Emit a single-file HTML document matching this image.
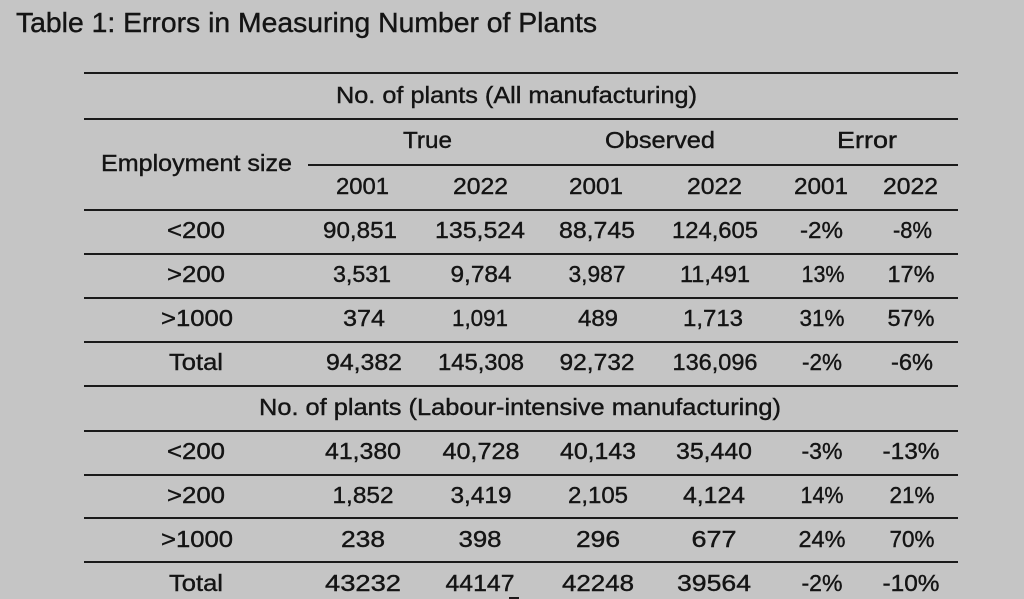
<!DOCTYPE html>
<html>
<head>
<meta charset="utf-8">
<style>
html,body{margin:0;padding:0;background:#c5c5c5;}
svg{display:block;}
text{font-family:"Liberation Sans",sans-serif;fill:#141414;stroke:#141414;stroke-width:0.4px;}
.b{font-size:23px;}
.t{font-size:28px;}
</style>
</head>
<body>
<svg width="1024" height="599" viewBox="0 0 1024 599" xmlns="http://www.w3.org/2000/svg">
<rect width="1024" height="599" fill="#c5c5c5"/>
<!-- title -->
<text class="t" x="16" y="32" textLength="581" lengthAdjust="spacingAndGlyphs">Table 1: Errors in Measuring Number of Plants</text>

<!-- lines -->
<g fill="#1a1a1a">
<rect x="84" y="72" width="874" height="2"/>
<rect x="84" y="118" width="874" height="2"/>
<rect x="308" y="164" width="650" height="2"/>
<rect x="84" y="209" width="874" height="2"/>
<rect x="84" y="253" width="874" height="2"/>
<rect x="84" y="297" width="874" height="2"/>
<rect x="84" y="341" width="874" height="2"/>
<rect x="84" y="385" width="874" height="2"/>
<rect x="84" y="430" width="874" height="2"/>
<rect x="84" y="474" width="874" height="2"/>
<rect x="84" y="517" width="874" height="2"/>
<rect x="84" y="561" width="874" height="2"/>
<rect x="509" y="597" width="10" height="2"/>
</g>

<g class="b" text-anchor="middle">
<text x="516.5" y="103" textLength="361" lengthAdjust="spacingAndGlyphs">No. of plants (All manufacturing)</text>
<text x="427.5" y="148" textLength="49" lengthAdjust="spacingAndGlyphs">True</text>
<text x="660" y="148" textLength="110" lengthAdjust="spacingAndGlyphs">Observed</text>
<text x="867" y="148" textLength="60" lengthAdjust="spacingAndGlyphs">Error</text>
<text x="196.5" y="171" textLength="191" lengthAdjust="spacingAndGlyphs">Employment size</text>

<text x="362.5" y="194" textLength="53" lengthAdjust="spacingAndGlyphs">2001</text>
<text x="480.5" y="194" textLength="55" lengthAdjust="spacingAndGlyphs">2022</text>
<text x="596" y="194" textLength="54" lengthAdjust="spacingAndGlyphs">2001</text>
<text x="714.5" y="194" textLength="55" lengthAdjust="spacingAndGlyphs">2022</text>
<text x="821" y="194" textLength="54" lengthAdjust="spacingAndGlyphs">2001</text>
<text x="910.5" y="194" textLength="55" lengthAdjust="spacingAndGlyphs">2022</text>

<!-- row 1 -->
<text x="196" y="238" textLength="58" lengthAdjust="spacingAndGlyphs">&lt;200</text>
<text x="360" y="238" textLength="74" lengthAdjust="spacingAndGlyphs">90,851</text>
<text x="480" y="238" textLength="90" lengthAdjust="spacingAndGlyphs">135,524</text>
<text x="597" y="238" textLength="76" lengthAdjust="spacingAndGlyphs">88,745</text>
<text x="715" y="238" textLength="86" lengthAdjust="spacingAndGlyphs">124,605</text>
<text x="821.5" y="238" textLength="43" lengthAdjust="spacingAndGlyphs">-2%</text>
<text x="912.5" y="238" textLength="39" lengthAdjust="spacingAndGlyphs">-8%</text>

<!-- row 2 -->
<text x="196" y="282" textLength="58" lengthAdjust="spacingAndGlyphs">&gt;200</text>
<text x="362" y="282" textLength="58" lengthAdjust="spacingAndGlyphs">3,531</text>
<text x="481" y="282" textLength="61" lengthAdjust="spacingAndGlyphs">9,784</text>
<text x="597" y="282" textLength="57" lengthAdjust="spacingAndGlyphs">3,987</text>
<text x="715" y="282" textLength="70" lengthAdjust="spacingAndGlyphs">11,491</text>
<text x="823" y="282" textLength="43" lengthAdjust="spacingAndGlyphs">13%</text>
<text x="911" y="282" textLength="47" lengthAdjust="spacingAndGlyphs">17%</text>

<!-- row 3 -->
<text x="197" y="326" textLength="72" lengthAdjust="spacingAndGlyphs">&gt;1000</text>
<text x="364" y="326" textLength="42" lengthAdjust="spacingAndGlyphs">374</text>
<text x="480" y="326" textLength="56" lengthAdjust="spacingAndGlyphs">1,091</text>
<text x="598" y="326" textLength="40" lengthAdjust="spacingAndGlyphs">489</text>
<text x="713" y="326" textLength="60" lengthAdjust="spacingAndGlyphs">1,713</text>
<text x="822" y="326" textLength="45" lengthAdjust="spacingAndGlyphs">31%</text>
<text x="911" y="326" textLength="47" lengthAdjust="spacingAndGlyphs">57%</text>

<!-- total -->
<text x="196" y="370" textLength="54" lengthAdjust="spacingAndGlyphs">Total</text>
<text x="364" y="370" textLength="76" lengthAdjust="spacingAndGlyphs">94,382</text>
<text x="481" y="370" textLength="86" lengthAdjust="spacingAndGlyphs">145,308</text>
<text x="597" y="370" textLength="75" lengthAdjust="spacingAndGlyphs">92,732</text>
<text x="715" y="370" textLength="85" lengthAdjust="spacingAndGlyphs">136,096</text>
<text x="822" y="370" textLength="40" lengthAdjust="spacingAndGlyphs">-2%</text>
<text x="912" y="370" textLength="42" lengthAdjust="spacingAndGlyphs">-6%</text>

<!-- labour heading -->
<text x="520" y="415" textLength="522" lengthAdjust="spacingAndGlyphs">No. of plants (Labour-intensive manufacturing)</text>

<!-- l row 1 -->
<text x="196" y="459" textLength="58" lengthAdjust="spacingAndGlyphs">&lt;200</text>
<text x="363" y="459" textLength="76" lengthAdjust="spacingAndGlyphs">41,380</text>
<text x="481" y="459" textLength="77" lengthAdjust="spacingAndGlyphs">40,728</text>
<text x="598" y="459" textLength="76" lengthAdjust="spacingAndGlyphs">40,143</text>
<text x="714" y="459" textLength="76" lengthAdjust="spacingAndGlyphs">35,440</text>
<text x="822" y="459" textLength="41" lengthAdjust="spacingAndGlyphs">-3%</text>
<text x="911" y="459" textLength="57" lengthAdjust="spacingAndGlyphs">-13%</text>

<!-- l row 2 -->
<text x="196" y="503" textLength="58" lengthAdjust="spacingAndGlyphs">&gt;200</text>
<text x="363" y="503" textLength="61" lengthAdjust="spacingAndGlyphs">1,852</text>
<text x="481" y="503" textLength="61" lengthAdjust="spacingAndGlyphs">3,419</text>
<text x="598" y="503" textLength="60" lengthAdjust="spacingAndGlyphs">2,105</text>
<text x="714" y="503" textLength="62" lengthAdjust="spacingAndGlyphs">4,124</text>
<text x="822" y="503" textLength="43" lengthAdjust="spacingAndGlyphs">14%</text>
<text x="912" y="503" textLength="45" lengthAdjust="spacingAndGlyphs">21%</text>

<!-- l row 3 -->
<text x="197" y="547" textLength="72" lengthAdjust="spacingAndGlyphs">&gt;1000</text>
<text x="363" y="547" textLength="44" lengthAdjust="spacingAndGlyphs">238</text>
<text x="480" y="547" textLength="43" lengthAdjust="spacingAndGlyphs">398</text>
<text x="598" y="547" textLength="44" lengthAdjust="spacingAndGlyphs">296</text>
<text x="714" y="547" textLength="45" lengthAdjust="spacingAndGlyphs">677</text>
<text x="822" y="547" textLength="47" lengthAdjust="spacingAndGlyphs">24%</text>
<text x="912" y="547" textLength="45" lengthAdjust="spacingAndGlyphs">70%</text>

<!-- l total -->
<text x="196" y="591" textLength="54" lengthAdjust="spacingAndGlyphs">Total</text>
<text x="363" y="591" textLength="76" lengthAdjust="spacingAndGlyphs">43232</text>
<text x="480" y="591" textLength="69" lengthAdjust="spacingAndGlyphs">44147</text>
<text x="598" y="591" textLength="72" lengthAdjust="spacingAndGlyphs">42248</text>
<text x="714" y="591" textLength="74" lengthAdjust="spacingAndGlyphs">39564</text>
<text x="822" y="591" textLength="41" lengthAdjust="spacingAndGlyphs">-2%</text>
<text x="911" y="591" textLength="57" lengthAdjust="spacingAndGlyphs">-10%</text>
</g>
</svg>
</body>
</html>
